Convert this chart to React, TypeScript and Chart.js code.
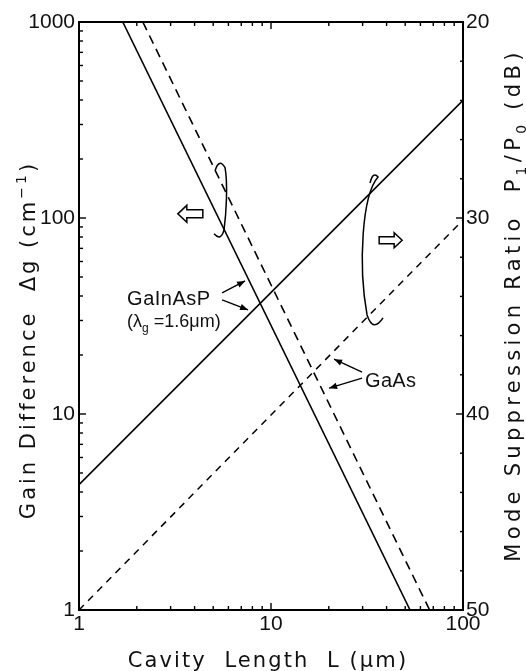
import React, { useEffect, useRef } from "react";
import { Chart, registerables } from "chart.js";

Chart.register(...registerables);

// ---------------- data ----------------
// Gain difference Δg (cm^-1) vs cavity length L (µm), left log axis
const GAINASP_DG_L = [1.69, 53];
const GAINASP_DG = [1000, 1];
const GAAS_DG_L = [2.15, 67];
const GAAS_DG = [1000, 1];
// Mode suppression ratio P1/P0 (dB) vs L, right axis (20 top → 50 bottom)
const MSR_L = [1, 100];
const GAINASP_MSR_DB = [43.6, 24.0];
const GAAS_MSR_DB = [50, 30.1];

// axis ticks
const X_MAJOR = [1, 10, 100];
const X_MINOR = [2, 3, 4, 5, 6, 7, 8, 9, 20, 30, 40, 50, 60, 70, 80, 90];
const Y_MAJOR = [1, 10, 100, 1000];
const Y_MINOR = [2, 3, 4, 5, 6, 7, 8, 9, 20, 30, 40, 50, 60, 70, 80, 90, 200, 300, 400, 500, 600, 700, 800, 900];
const DB_MAJOR = [20, 30, 40, 50];
const DB_MINOR = [22, 24, 26, 28, 32, 34, 36, 38, 42, 44, 46, 48];

// annotation anchors (data coordinates: [L, Δg])
const LEFT_ARROW_AT = [3.8, 105];
const RIGHT_ARROW_AT = [42, 77];
const LEFT_BRACKET_AT = [5.56, 124];
const RIGHT_BRACKET_AT = [32.8, 68.7];
const GAINASP_LABEL_AT = [1.78, 36];
const GAAS_LABEL_AT = [30.9, 13.7];

const zip = (xs: number[], ys: number[]) => xs.map((x, i) => ({ x, y: ys[i] }));

type Seg = { t: string; s?: "sub" | "sup" };

function drawRich(
  ctx: CanvasRenderingContext2D,
  segs: Seg[],
  x: number,
  y: number,
  size: number,
  family: string,
  spacing: number,
  align: "left" | "center"
) {
  const fontFor = (s?: string) => `${s ? Math.round(size * 0.68) : size}px ${family}`;
  (ctx as any).letterSpacing = `${spacing}px`;
  ctx.textAlign = "left";
  ctx.textBaseline = "alphabetic";
  let w = 0;
  for (const sg of segs) {
    ctx.font = fontFor(sg.s);
    w += ctx.measureText(sg.t).width;
  }
  let cx = align === "center" ? x - w / 2 : x;
  for (const sg of segs) {
    ctx.font = fontFor(sg.s);
    const dy = sg.s === "sub" ? size * 0.3 : sg.s === "sup" ? -size * 0.42 : 0;
    ctx.fillText(sg.t, cx, y + dy);
    cx += ctx.measureText(sg.t).width;
  }
  (ctx as any).letterSpacing = "0px";
}

const decorPlugin = {
  id: "decor",
  afterDatasetsDraw(chart: any) {
    const ctx: CanvasRenderingContext2D = chart.ctx;
    const { left, right, top, bottom } = chart.chartArea;
    const xs = chart.scales.x;
    const ys = chart.scales.y;
    const y2 = chart.scales.y2;
    const P = (a: number[]) => [xs.getPixelForValue(a[0]), ys.getPixelForValue(a[1])];

    ctx.save();
    ctx.strokeStyle = "#000";
    ctx.fillStyle = "#111";
    ctx.lineCap = "butt";

    const seg = (x1: number, y1: number, x2: number, y2_: number) => {
      ctx.beginPath();
      ctx.moveTo(x1, y1);
      ctx.lineTo(x2, y2_);
      ctx.stroke();
    };

    // ticks (inward)
    ctx.lineWidth = 1.4;
    X_MAJOR.forEach((v) => {
      const p = xs.getPixelForValue(v);
      seg(p, bottom, p, bottom - 7);
      seg(p, top, p, top + 7);
    });
    X_MINOR.forEach((v) => {
      const p = xs.getPixelForValue(v);
      seg(p, bottom, p, bottom - 4);
      seg(p, top, p, top + 4);
    });
    Y_MAJOR.forEach((v) => {
      const p = ys.getPixelForValue(v);
      seg(left, p, left + 7, p);
    });
    Y_MINOR.forEach((v) => {
      const p = ys.getPixelForValue(v);
      seg(left, p, left + 4, p);
    });
    DB_MAJOR.forEach((v) => {
      const p = y2.getPixelForValue(v);
      seg(right, p, right - 7, p);
    });
    DB_MINOR.forEach((v) => {
      const p = y2.getPixelForValue(v);
      seg(right, p, right - 3, p);
    });

    // frame
    ctx.lineWidth = 2;
    ctx.strokeRect(left, top, right - left, bottom - top);

    // hollow block arrows
    ctx.lineWidth = 1.5;
    const block = (c: number[], dir: number, hl: number, hh: number, sh: number, len: number) => {
      const [cx, cy] = c;
      const tip = cx + dir * (len / 2);
      const back = cx - dir * (len / 2);
      const neck = tip - dir * hl;
      ctx.beginPath();
      ctx.moveTo(tip, cy);
      ctx.lineTo(neck, cy - hh);
      ctx.lineTo(neck, cy - sh);
      ctx.lineTo(back, cy - sh);
      ctx.lineTo(back, cy + sh);
      ctx.lineTo(neck, cy + sh);
      ctx.lineTo(neck, cy + hh);
      ctx.closePath();
      ctx.stroke();
    };
    block(P(LEFT_ARROW_AT), -1, 9, 8.5, 4, 25);
    block(P(RIGHT_ARROW_AT), 1, 8, 7.5, 3.5, 23);

    // bracket curves
    ctx.lineWidth = 1.5;
    {
      const [ax, ay] = P(LEFT_BRACKET_AT);
      ctx.beginPath();
      ctx.moveTo(ax - 7, ay - 29);
      ctx.quadraticCurveTo(ax - 3, ay - 42, ax + 3, ay - 32);
      ctx.bezierCurveTo(ax + 6, ay - 15, ax + 4, ay + 15, ax + 2, ay + 30);
      ctx.quadraticCurveTo(ax - 1, ay + 42, ax - 8, ay + 34);
      ctx.stroke();
    }
    {
      const [ax, ay] = P(RIGHT_BRACKET_AT);
      ctx.beginPath();
      ctx.moveTo(ax, ay - 67);
      ctx.quadraticCurveTo(ax + 3, ay - 79, ax + 8, ay - 73);
      ctx.bezierCurveTo(ax - 8, ay - 55, ax - 12, ay + 15, ax - 3, ay + 65);
      ctx.quadraticCurveTo(ax + 3, ay + 83, ax + 13, ay + 68);
      ctx.stroke();
    }

    // pointer arrows
    const pointer = (x1: number, y1: number, x2: number, y2_: number) => {
      ctx.lineWidth = 1.4;
      seg(x1, y1, x2, y2_);
      const a = Math.atan2(y2_ - y1, x2 - x1);
      const L = 8, W = 3.2;
      ctx.beginPath();
      ctx.moveTo(x2, y2_);
      ctx.lineTo(x2 - L * Math.cos(a) + W * Math.sin(a), y2_ - L * Math.sin(a) - W * Math.cos(a));
      ctx.lineTo(x2 - L * Math.cos(a) - W * Math.sin(a), y2_ - L * Math.sin(a) + W * Math.cos(a));
      ctx.closePath();
      ctx.fillStyle = "#000";
      ctx.fill();
    };

    // GaInAsP label
    {
      const [tx, ty] = P(GAINASP_LABEL_AT);
      ctx.fillStyle = "#111";
      drawRich(ctx, [{ t: "GaInAsP" }], tx, ty, 20, "'Liberation Sans'", 0.5, "left");
      drawRich(
        ctx,
        [{ t: "(λ" }, { t: "g", s: "sub" }, { t: " =1.6μm)" }],
        tx,
        ty + 22,
        18,
        "'Liberation Sans'",
        0,
        "left"
      );
      pointer(tx + 95, ty - 12, tx + 118, ty - 24);
      pointer(tx + 95, ty - 5, tx + 121, ty + 5);
    }
    // GaAs label
    {
      const [tx, ty] = P(GAAS_LABEL_AT);
      ctx.fillStyle = "#111";
      drawRich(ctx, [{ t: "GaAs" }], tx, ty, 20, "'Liberation Sans'", 0.3, "left");
      pointer(tx - 3, ty - 15, tx - 31, ty - 28);
      pointer(tx - 3, ty - 9, tx - 36, ty + 1);
    }

    // axis titles
    ctx.fillStyle = "#111";
    const fam = "'DejaVu Sans'";
    drawRich(
      ctx,
      [{ t: "Cavity  Length  L (μm)" }],
      (left + right) / 2 - 3,
      chart.height - 4,
      21,
      fam,
      2.1,
      "center"
    );
    ctx.save();
    ctx.translate(35, 340);
    ctx.rotate(-Math.PI / 2);
    drawRich(
      ctx,
      [{ t: "Gain Difference  Δg (cm" }, { t: "−1", s: "sup" }, { t: ")" }],
      0,
      0,
      21,
      fam,
      3.0,
      "center"
    );
    ctx.restore();
    ctx.save();
    ctx.translate(520, 305);
    ctx.rotate(-Math.PI / 2);
    drawRich(
      ctx,
      [
        { t: "Mode Suppression Ratio  P" },
        { t: "1", s: "sub" },
        { t: "/P" },
        { t: "0", s: "sub" },
        { t: " (dB)" },
      ],
      0,
      0,
      21,
      fam,
      4.3,
      "center"
    );
    ctx.restore();

    ctx.restore();
  },
};

export default function App() {
  const ref = useRef<HTMLCanvasElement | null>(null);

  useEffect(() => {
    if (!ref.current) return;
    const tickFont = { family: "'Liberation Sans'", size: 21 };
    const chart = new Chart(ref.current, {
      type: "scatter",
      data: {
        datasets: [
          {
            label: "GaInAsP Δg",
            data: zip(GAINASP_DG_L, GAINASP_DG),
            yAxisID: "y",
            showLine: true,
            borderColor: "#000",
            borderWidth: 1.6,
            pointRadius: 0,
          },
          {
            label: "GaAs Δg",
            data: zip(GAAS_DG_L, GAAS_DG),
            yAxisID: "y",
            showLine: true,
            borderColor: "#000",
            borderWidth: 1.6,
            borderDash: [9, 6],
            pointRadius: 0,
          },
          {
            label: "GaInAsP MSR",
            data: zip(MSR_L, GAINASP_MSR_DB),
            yAxisID: "y2",
            showLine: true,
            borderColor: "#000",
            borderWidth: 1.6,
            pointRadius: 0,
          },
          {
            label: "GaAs MSR",
            data: zip(MSR_L, GAAS_MSR_DB),
            yAxisID: "y2",
            showLine: true,
            borderColor: "#000",
            borderWidth: 1.5,
            borderDash: [7, 6],
            pointRadius: 0,
          },
        ],
      },
      options: {
        animation: false,
        responsive: false,
        maintainAspectRatio: false,
        devicePixelRatio: 1,
        layout: { padding: { top: 22, left: 0, right: 0, bottom: 0 } },
        plugins: { legend: { display: false }, tooltip: { enabled: false } },
        scales: {
          x: {
            type: "logarithmic",
            position: "bottom",
            min: 1,
            max: 100,
            grid: { display: false, drawTicks: false },
            border: { display: false },
            ticks: {
              font: tickFont,
              color: "#111",
              padding: 2,
              autoSkip: false,
              maxRotation: 0,
              callback: (v: any) => String(v),
            },
            afterBuildTicks: (s: any) => {
              s.ticks = X_MAJOR.map((v) => ({ value: v }));
            },
            afterFit: (s: any) => {
              s.height = 61;
            },
          },
          y: {
            type: "logarithmic",
            position: "left",
            min: 1,
            max: 1000,
            grid: { display: false, drawTicks: false },
            border: { display: false },
            ticks: {
              font: tickFont,
              color: "#111",
              padding: 4,
              autoSkip: false,
              callback: (v: any) => String(v),
            },
            afterBuildTicks: (s: any) => {
              s.ticks = Y_MAJOR.map((v) => ({ value: v }));
            },
            afterFit: (s: any) => {
              s.width = 79;
            },
          },
          y2: {
            type: "linear",
            position: "right",
            min: 20,
            max: 50,
            reverse: true,
            grid: { display: false, drawTicks: false },
            border: { display: false },
            ticks: {
              font: tickFont,
              color: "#111",
              padding: 3,
              autoSkip: false,
              callback: (v: any) => String(v),
            },
            afterBuildTicks: (s: any) => {
              s.ticks = DB_MAJOR.map((v) => ({ value: v }));
            },
            afterFit: (s: any) => {
              s.width = 63;
            },
          },
        },
      } as any,
      plugins: [decorPlugin],
    });
    return () => chart.destroy();
  }, []);

  return (
    <div
      style={{
        position: "absolute",
        left: 0,
        top: 0,
        width: 526,
        height: 671,
        background: "#fff",
      }}
    >
      <canvas ref={ref} width={526} height={671} style={{ display: "block" }} />
    </div>
  );
}
